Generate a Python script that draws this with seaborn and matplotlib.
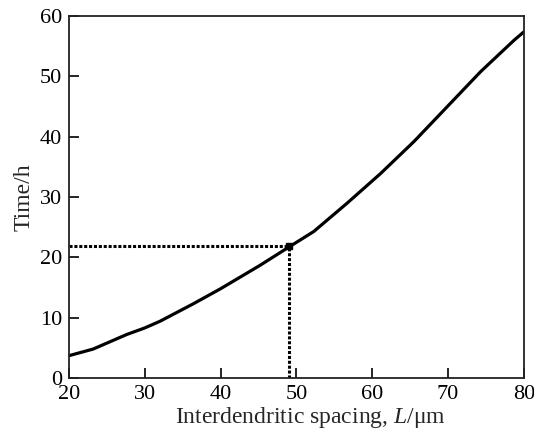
import matplotlib
matplotlib.use("Agg")
import matplotlib.pyplot as plt
import seaborn as sns
import pandas as pd

# Data
spacing = [20, 23.2, 27.6, 30, 32, 36.4, 40, 45.1, 49, 52.3, 56.7, 61.1, 65.5, 69.9, 74.3, 78.7, 80]
time_h = [3.7, 4.8, 7.2, 8.3, 9.4, 12.3, 14.8, 18.6, 21.7, 24.3, 29.0, 33.9, 39.2, 45.0, 50.8, 56.0, 57.4]
marker_x = [49]
marker_y = [21.9]
x_ticks = [20, 30, 40, 50, 60, 70, 80]
y_ticks = [0, 10, 20, 30, 40, 50, 60]

sns.set_style("ticks")
plt.rcParams['font.family'] = ['Liberation Serif', 'DejaVu Serif']
plt.rcParams['mathtext.fontset'] = 'custom'
plt.rcParams['mathtext.it'] = 'Liberation Serif:italic'
plt.rcParams['mathtext.rm'] = 'Liberation Serif'

fig = plt.figure(figsize=(5.34, 4.37), dpi=100)
ax = fig.add_axes([0.129, 0.135, 0.852, 0.828])

df = pd.DataFrame({"x": spacing, "y": time_h})
sns.lineplot(data=df, x="x", y="y", ax=ax, color="black", linewidth=2.3)

# dotted guide lines
ax.plot([x_ticks[0], marker_x[0]], [marker_y[0], marker_y[0]], linestyle=(0, (1, 0.6)),
        color="black", linewidth=2.2)
ax.plot([marker_x[0], marker_x[0]], [y_ticks[0], marker_y[0]], linestyle=(0, (1, 0.6)),
        color="black", linewidth=2.2)
ax.plot(marker_x, marker_y, marker="s", color="black", markersize=4.8, linestyle="none")

ax.set_xlim(x_ticks[0], x_ticks[-1])
ax.set_ylim(y_ticks[0], y_ticks[-1])
ax.set_xticks(x_ticks)
ax.set_yticks(y_ticks)
ax.tick_params(direction="in", length=7, width=1.2, labelsize=16, pad=5,
               top=False, right=False, colors="black")
for s in ax.spines.values():
    s.set_visible(True)
    s.set_linewidth(1.3)
    s.set_color("#222222")

ax.set_xlabel(r"Interdendritic spacing, $\it{L}$/μm", fontsize=17, labelpad=1)
ax.set_ylabel("Time/h", fontsize=17, labelpad=4)
ax.xaxis.set_label_coords(0.53, -0.075)

fig.savefig("out.png", dpi=100)
